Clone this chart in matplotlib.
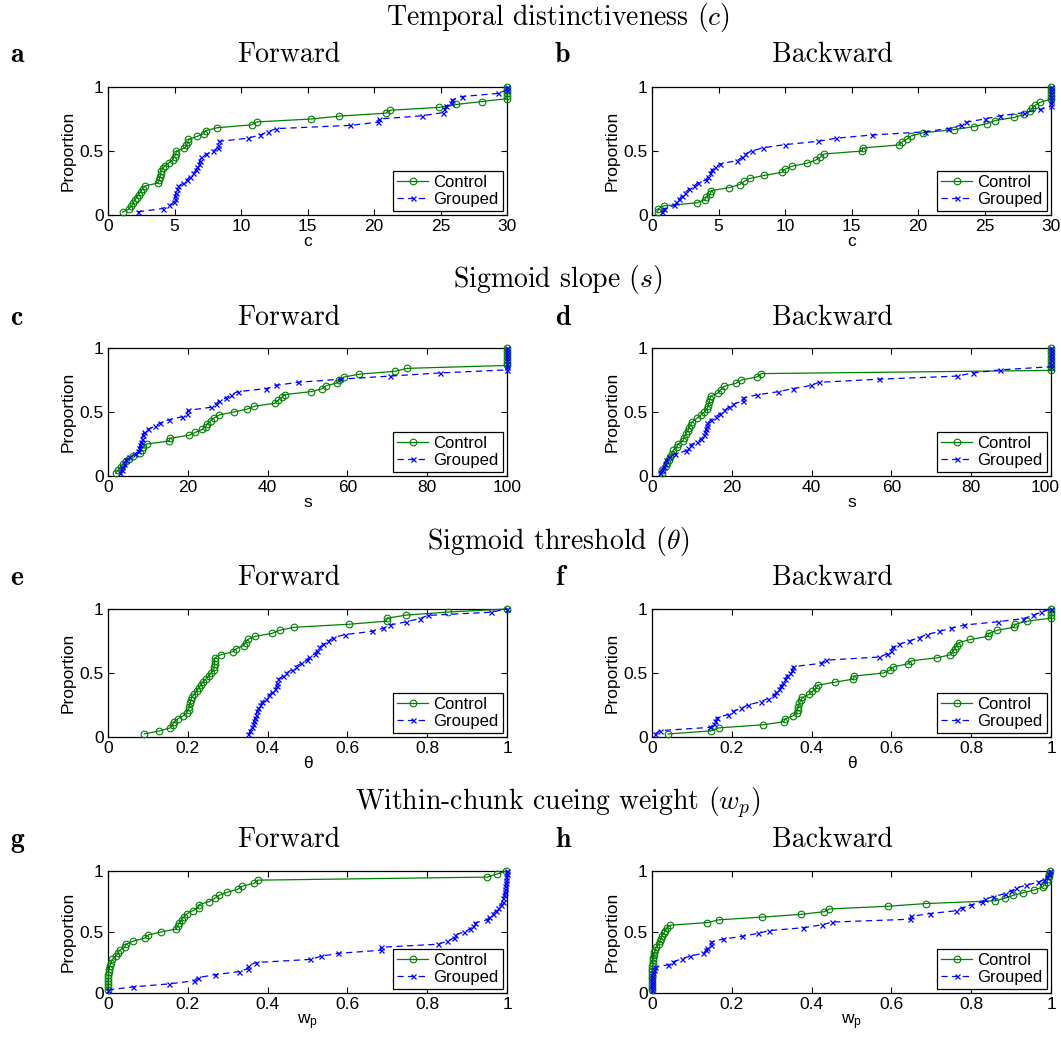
import numpy as np
import matplotlib
matplotlib.use('Agg')
import matplotlib.pyplot as plt
from matplotlib.transforms import ScaledTranslation

plt.rcParams['font.family'] = ['Liberation Sans', 'DejaVu Sans']
plt.rcParams['mathtext.fontset'] = 'cm'

# ---------------- data (sorted parameter values per participant) ----------------
a_control = [1.1, 1.55, 1.75, 1.9, 2.0, 2.15, 2.3, 2.45, 2.6, 2.8, 3.75, 3.85, 3.9, 3.95, 4.0,
             4.1, 4.3, 4.6, 4.85, 5.0, 5.1, 5.15, 5.75, 5.9, 6.0, 6.05, 6.7, 7.2, 7.35, 8.2,
             10.8, 11.2, 15.3, 17.4, 20.9, 21.2, 24.9, 26.2, 28.1, 30, 30, 30, 30, 30]
a_grouped = [2.25, 4.1, 4.6, 4.95, 5.0, 5.05, 5.1, 5.2, 5.3, 5.65, 5.95, 6.15, 6.4, 6.6, 6.7,
             6.85, 6.9, 7.0, 7.4, 7.9, 8.25, 8.3, 8.35, 10.5, 11.45, 12.0, 12.65, 18.2, 20.3,
             20.35, 23.6, 25.2, 25.3, 25.4, 25.8, 25.9, 26.6, 29.3, 30, 30]
b_control = [0.43, 0.45, 0.88, 3.38, 3.96, 4.08, 4.39, 4.46, 5.8, 6.6, 6.9, 7.35, 8.45, 9.77,
             10.0, 10.5, 11.65, 12.3, 12.65, 12.9, 15.8, 15.85, 18.6, 18.8, 19.2, 19.5, 20.4,
             22.7, 24.2, 25.2, 25.8, 27.2, 28.0, 28.4, 28.6, 28.8, 29.2, 30, 30, 30, 30, 30]
b_grouped = [0.75, 0.93, 1.68, 1.83, 2.05, 2.25, 2.5, 2.76, 3.13, 3.43, 4.08, 4.2, 4.34, 4.5,
             4.76, 5.14, 6.4, 6.77, 6.97, 7.5, 8.35, 10.0, 12.45, 13.86, 16.54, 20.55, 22.26,
             23.2, 23.6, 25.0, 26.2, 28.0, 29.2, 30, 30, 30, 30, 30, 30, 30]
c_control = [1.94, 2.5, 3.2, 3.8, 4.5, 5.3, 6.3, 8.0, 8.4, 8.7, 9.7, 15.2, 15.6, 20.3, 21.9,
             23.6, 24.5, 24.9, 25.7, 26.6, 27.9, 31.5, 34.9, 36.7, 41.8, 42.6, 43.5, 44.3,
             50.9, 53.6, 54.6, 57.4, 58.0, 59.1, 62.9, 72.0, 74.9,
             100, 100, 100, 100, 100, 100, 100]
c_grouped = [3.1, 3.4, 3.6, 4.0, 4.5, 5.3, 6.75, 7.4, 7.8, 8.0, 8.2, 8.4, 8.7, 9.0, 10.1,
             11.8, 13.1, 15.2, 18.6, 19.7, 20.0, 25.7, 27.0, 27.8, 29.5, 30.8, 32.5, 39.7,
             42.0, 47.5, 58.2, 70.6, 83.1, 100, 100, 100, 100, 100, 100, 100, 100]
d_control = [2.4, 2.6, 3.4, 3.8, 4.2, 4.6, 4.9, 5.3, 6.2, 6.5, 7.8, 8.0, 8.4, 8.9, 9.3, 9.7,
             10.1, 11.2, 12.2, 13.1, 13.8, 14.1, 14.3, 14.5, 14.8, 16.6, 17.3, 18.0, 21.1,
             22.4, 26.4, 27.4, 100, 100, 100, 100, 100, 100, 100, 100]
d_grouped = [1.9, 2.5, 2.9, 3.3, 3.6, 4.2, 5.65, 8.4, 9.0, 9.7, 11.4, 12.4, 13.1, 13.3, 13.5,
             13.7, 13.9, 14.8, 16.0, 17.1, 18.1, 19.2, 20.3, 22.8, 22.9, 26.4, 31.6, 35.4,
             39.9, 41.8, 56.8, 76.5, 80.4, 87.3, 100, 100, 100, 100, 100, 100, 100]
e_control = [0.091, 0.129, 0.156, 0.162, 0.166, 0.175, 0.189, 0.197, 0.202, 0.204, 0.206,
             0.208, 0.21, 0.216, 0.222, 0.227, 0.233, 0.237, 0.245, 0.253, 0.258, 0.265,
             0.266, 0.267, 0.267, 0.268, 0.283, 0.313, 0.322, 0.34, 0.345, 0.35, 0.368,
             0.411, 0.43, 0.466, 0.604, 0.698, 0.70, 0.748, 0.852, 1.0]
e_grouped = [0.352, 0.357, 0.36, 0.363, 0.366, 0.368, 0.37, 0.374, 0.377, 0.381, 0.387, 0.395,
             0.403, 0.411, 0.419, 0.423, 0.424, 0.426, 0.438, 0.447, 0.46, 0.47, 0.484, 0.498,
             0.505, 0.518, 0.524, 0.53, 0.54, 0.552, 0.565, 0.593, 0.661, 0.69, 0.707, 0.748,
             0.781, 0.802, 0.96, 1.0]
f_control = [0.041, 0.147, 0.168, 0.278, 0.33, 0.334, 0.354, 0.363, 0.365, 0.367, 0.369,
             0.373, 0.377, 0.394, 0.402, 0.412, 0.416, 0.458, 0.505, 0.507, 0.58, 0.597,
             0.605, 0.641, 0.65, 0.715, 0.748, 0.754, 0.759, 0.764, 0.77, 0.798, 0.841,
             0.845, 0.864, 0.907, 0.911, 0.94, 1.0, 1.0, 1.0, 1.0]
f_grouped = [0.008, 0.02, 0.145, 0.155, 0.159, 0.162, 0.19, 0.203, 0.224, 0.24, 0.272, 0.29,
             0.305, 0.312, 0.318, 0.324, 0.329, 0.333, 0.338, 0.345, 0.352, 0.354, 0.423,
             0.435, 0.57, 0.59, 0.598, 0.603, 0.62, 0.645, 0.668, 0.688, 0.72, 0.75, 0.783,
             0.866, 0.93, 0.955, 0.975, 1.0]
g_control = [0.0, 0.0, 0.0, 0.0, 0.001, 0.001, 0.002, 0.003, 0.005, 0.008, 0.011, 0.019,
             0.025, 0.029, 0.042, 0.045, 0.063, 0.092, 0.1, 0.133, 0.171, 0.175, 0.178,
             0.186, 0.19, 0.198, 0.213, 0.227, 0.228, 0.254, 0.267, 0.278, 0.298, 0.325,
             0.336, 0.367, 0.375, 0.95, 0.975, 0.998]
g_grouped = [0.0, 0.063, 0.154, 0.215, 0.225, 0.267, 0.329, 0.35, 0.352, 0.371, 0.506, 0.533,
             0.577, 0.683, 0.684, 0.828, 0.85, 0.867, 0.869, 0.892, 0.908, 0.914, 0.92, 0.95,
             0.956, 0.965, 0.973, 0.978, 0.984, 0.989, 0.991, 0.993, 0.994, 0.995, 0.996,
             0.997, 0.998, 0.998, 0.999, 0.999]
h_control = [0, 0, 0, 0, 0, 0, 0, 0.0005, 0.001, 0.001, 0.002, 0.002, 0.003, 0.004, 0.006,
             0.008, 0.011, 0.017, 0.019, 0.022, 0.025, 0.029, 0.033, 0.037, 0.046, 0.139,
             0.168, 0.276, 0.373, 0.432, 0.444, 0.592, 0.687, 0.859, 0.885, 0.905, 0.93,
             0.958, 0.979, 0.983, 0.99, 0.992, 0.994, 0.996, 0.998]
h_grouped = [0, 0, 0, 0, 0.0005, 0.001, 0.002, 0.004, 0.008, 0.041, 0.052, 0.075, 0.095,
             0.129, 0.135, 0.139, 0.147, 0.149, 0.178, 0.226, 0.266, 0.293, 0.379, 0.425,
             0.452, 0.647, 0.649, 0.697, 0.763, 0.776, 0.799, 0.826, 0.834, 0.855, 0.885, 0.9,
             0.913, 0.938, 0.967, 0.983, 0.99, 0.995, 0.998]

row_titles = [r'Temporal distinctiveness ($c$)', r'Sigmoid slope ($s$)',
              r'Sigmoid threshold ($\theta$)', r'Within-chunk cueing weight ($w_p$)']
panel_letters = ['a', 'b', 'c', 'd', 'e', 'f', 'g', 'h']
directions = ['Forward', 'Backward']
x_labels = ['c', 's', '\u03b8', r'$\mathregular{w_p}$']
x_limits = [30, 100, 1, 1]
x_ticks = [[0, 5, 10, 15, 20, 25, 30], [0, 20, 40, 60, 80, 100],
           [0, 0.2, 0.4, 0.6, 0.8, 1], [0, 0.2, 0.4, 0.6, 0.8, 1]]
x_ticklabels = [['0', '5', '10', '15', '20', '25', '30'],
                ['0', '20', '40', '60', '80', '100'],
                ['0', '0.2', '0.4', '0.6', '0.8', '1'],
                ['0', '0.2', '0.4', '0.6', '0.8', '1']]
series = [(a_control, a_grouped), (b_control, b_grouped), (c_control, c_grouped),
          (d_control, d_grouped), (e_control, e_grouped), (f_control, f_grouped),
          (g_control, g_grouped), (h_control, h_grouped)]

# ---------------- layout ----------------
W, H = 1061, 1038
fig = plt.figure(figsize=(W / 100, H / 100), dpi=100)
col_left = [108, 652]
ax_w = 399
rows = [(87, 215), (348, 476), (609, 737), (871, 993)]
title_y = [18, 280, 541, 803]
sub_y = [55, 318, 578, 840]

GREEN = (0, 0.5, 0)
BLUE = (0, 0, 1)
FS = 12.5

for r in range(4):
    fig.text(558 / W, 1 - title_y[r] / H, row_titles[r], family='cmr10', fontsize=20,
             ha='center', va='center')
    for c in range(2):
        idx = 2 * r + c
        top, bot = rows[r]
        ax = fig.add_axes([col_left[c] / W, 1 - bot / H, ax_w / W, (bot - top) / H])
        ctrl, grp = series[idx]
        yc = np.arange(1, len(ctrl) + 1) / len(ctrl)
        yg = np.arange(1, len(grp) + 1) / len(grp)
        ax.plot(ctrl, yc, '-', color=GREEN, marker='o', ms=4.8, mfc='none', mec=GREEN,
                mew=0.8, lw=0.9, label='Control', clip_on=False, zorder=3)
        ax.plot(grp, yg, '--', color=BLUE, marker='x', ms=3.6, mew=0.9, lw=0.9,
                dashes=(5, 3.5), label='Grouped', clip_on=False, zorder=4)
        ax.set_xlim(0, x_limits[r])
        ax.set_ylim(0, 1)
        ax.set_xticks(x_ticks[r])
        ax.set_xticklabels(x_ticklabels[r])
        ax.set_yticks([0, 0.5, 1])
        ax.set_yticklabels(['0', '0.5', '1'])
        ax.tick_params(direction='in', top=True, right=True, length=4, width=0.8,
                       labelsize=FS, pad=3)
        if c == 1 and x_limits[r] == 100:
            lab = ax.get_xticklabels()[-1]
            lab.set_transform(lab.get_transform() +
                              ScaledTranslation(-6 / 100, 0, fig.dpi_scale_trans))
        for s in ax.spines.values():
            s.set_linewidth(0.9)
        ax.set_ylabel('Proportion', fontsize=FS, labelpad=3)
        ax.set_xlabel(x_labels[r], fontsize=FS, labelpad=0)
        leg = ax.legend(loc='lower right', fontsize=12, numpoints=1, handlelength=1.9,
                        handletextpad=0.3, borderaxespad=0.25, borderpad=0.25,
                        labelspacing=0.1, fancybox=False, framealpha=1,
                        edgecolor='black')
        leg.get_frame().set_linewidth(0.9)
        # direction subtitle and panel letter
        cx = [289, 832][c]
        fig.text(cx / W, 1 - sub_y[r] / H, directions[c], family='cmr10', fontsize=20,
                 ha='center', va='center')
        lx = [10, 555][c]
        fig.text(lx / W, 1 - sub_y[r] / H, panel_letters[idx], family='cmb10', fontsize=20,
                 ha='left', va='center')

fig.savefig('out.png', dpi=100)
